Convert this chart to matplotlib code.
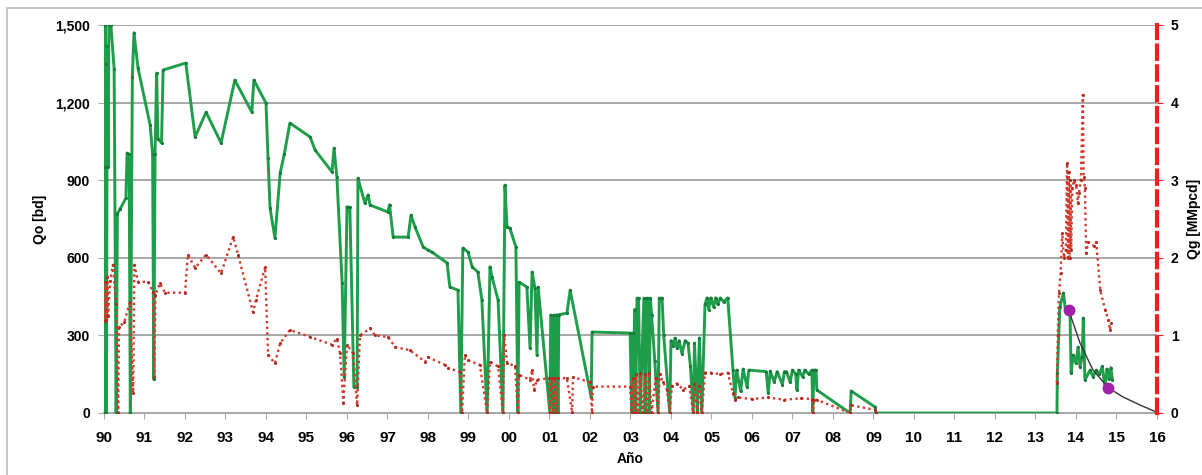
import matplotlib
matplotlib.use("Agg")
import matplotlib.pyplot as plt
from matplotlib.lines import Line2D

plt.rcParams['font.family'] = ['Liberation Sans', 'DejaVu Sans']
plt.rcParams['font.weight'] = 'bold'

# ---------------- data ----------------
year_ticks = list(range(1990, 2017))
year_labels = [f"{y % 100:02d}" for y in year_ticks]
qo_ticks = [0, 300, 600, 900, 1200, 1500]
qo_tick_labels = ["0", "300", "600", "900", "1,200", "1,500"]
qg_ticks = [0, 1, 2, 3, 4, 5]

# Qo [bd] (green, left axis)
qo_year = [
    1990.00, 1990.01, 1990.02, 1990.03, 1990.05, 1990.06, 1990.08, 1990.10, 1990.12, 1990.17,
    1990.25, 1990.30, 1990.33, 1990.40, 1990.54, 1990.57, 1990.62, 1990.65, 1990.70, 1990.74,
    1990.84, 1991.14, 1991.20, 1991.23, 1991.26, 1991.30, 1991.33, 1991.42, 1991.46, 1992.02,
    1992.25, 1992.52, 1992.89, 1993.23, 1993.65, 1993.70, 1994.00, 1994.05, 1994.10, 1994.22,
    1994.35, 1994.45, 1994.59, 1995.09, 1995.21, 1995.63, 1995.68, 1995.75, 1995.88, 1995.93,
    1996.00, 1996.07, 1996.17, 1996.25, 1996.27, 1996.44, 1996.52, 1996.57, 1997.01, 1997.05,
    1997.14, 1997.51, 1997.58, 1997.68, 1997.88, 1998.00, 1998.10, 1998.47, 1998.54, 1998.74,
    1998.81, 1998.86, 1998.99, 1999.09, 1999.23, 1999.33, 1999.46, 1999.53, 1999.58, 1999.73,
    1999.85, 1999.90, 1999.95, 2000.02, 2000.17, 2000.22, 2000.25, 2000.44, 2000.52, 2000.57,
    2000.64, 2000.69, 2000.72, 2001.01, 2001.03, 2001.09, 2001.11, 2001.16, 2001.18, 2001.21,
    2001.23, 2001.43, 2001.51, 2002.03, 2002.05, 2002.99, 2003.03, 2003.05, 2003.07, 2003.10,
    2003.13, 2003.16, 2003.20, 2003.24, 2003.33, 2003.36, 2003.39, 2003.43, 2003.46, 2003.49,
    2003.52, 2003.60, 2003.68, 2003.71, 2003.78, 2003.82, 2003.97, 2004.00, 2004.05, 2004.10,
    2004.15, 2004.20, 2004.27, 2004.35, 2004.42, 2004.48, 2004.55, 2004.58, 2004.65, 2004.70,
    2004.76, 2004.84, 2004.89, 2004.93, 2004.98, 2005.05, 2005.10, 2005.15, 2005.22, 2005.30,
    2005.40, 2005.53, 2005.58, 2005.62, 2005.72, 2005.78, 2005.88, 2005.92, 2006.35, 2006.40,
    2006.45, 2006.55, 2006.62, 2006.75, 2006.80, 2006.85, 2006.94, 2007.00, 2007.08, 2007.11,
    2007.15, 2007.25, 2007.30, 2007.40, 2007.48, 2007.50, 2007.53, 2007.58, 2007.60, 2008.42,
    2008.45, 2009.04, 2009.06, 2013.53, 2013.54, 2013.60, 2013.69, 2013.74, 2013.85, 2013.88,
    2013.93, 2014.00, 2014.05, 2014.10, 2014.15, 2014.18, 2014.22, 2014.35, 2014.42, 2014.50,
    2014.58, 2014.65, 2014.72, 2014.76, 2014.82, 2014.86, 2014.90,
]
qo_val = [
    0, 1500, 950, 1500, 1350, 0, 1420, 950, 1500, 1500,
    1330, 0, 770, 790, 830, 1005, 1000, 0, 1300, 1470,
    1333, 1113, 1000, 130, 1000, 1314, 1060, 1044, 1326, 1353,
    1067, 1163, 1044, 1287, 1163, 1287, 1198, 985, 792, 676,
    928, 1000, 1121, 1067, 1017, 932, 1024, 912, 502, 139,
    797, 795, 100, 100, 908, 812, 843, 804, 777, 805,
    680, 680, 765, 719, 642, 630, 622, 580, 487, 475,
    0, 638, 622, 565, 545, 437, 0, 565, 526, 437,
    0, 881, 719, 715, 642, 0, 506, 487, 251, 545,
    483, 224, 487, 0, 379, 0, 379, 0, 380, 0,
    380, 386, 475, 60, 313, 309, 0, 309, 0, 400,
    0, 444, 444, 0, 444, 0, 444, 444, 0, 444,
    380, 200, 0, 444, 444, 300, 0, 280, 260, 290,
    250, 280, 230, 280, 270, 180, 0, 270, 0, 290,
    0, 420, 445, 400, 445, 410, 445, 420, 445, 430,
    445, 166, 58, 166, 85, 170, 100, 166, 160, 77,
    162, 120, 160, 110, 160, 160, 120, 166, 150, 89,
    166, 140, 166, 150, 166, 0, 166, 166, 89, 0,
    85, 23, 0, 0, 155, 410, 464, 398, 398, 155,
    224, 193, 255, 178, 216, 367, 128, 166, 140, 166,
    150, 180, 93, 170, 130, 175, 128,
]

# Qg [MMpcd] (red dotted, right axis); NaN = no data between 2009 and 2013
nan = float('nan')
qg_year = [
    1990.02, 1990.03, 1990.05, 1990.06, 1990.08, 1990.10, 1990.15, 1990.22, 1990.30, 1990.35,
    1990.37, 1990.50, 1990.64, 1990.72, 1990.75, 1990.84, 1991.09, 1991.21, 1991.24, 1991.27,
    1991.38, 1991.51, 1992.00, 1992.07, 1992.25, 1992.52, 1992.89, 1993.19, 1993.31, 1993.68,
    1993.75, 1993.98, 1994.05, 1994.22, 1994.35, 1994.59, 1995.09, 1995.63, 1995.75, 1995.83,
    1995.91, 1996.00, 1996.15, 1996.25, 1996.32, 1996.57, 1996.69, 1997.01, 1997.19, 1997.55,
    1997.93, 1998.00, 1998.42, 1998.49, 1998.79, 1998.84, 1998.91, 1998.99, 1999.28, 1999.46,
    1999.53, 1999.73, 1999.85, 1999.88, 1999.95, 2000.15, 2000.22, 2000.25, 2000.52, 2000.57,
    2000.62, 2000.69, 2001.00, 2001.01, 2001.05, 2001.09, 2001.13, 2001.18, 2001.21, 2001.43,
    2001.56, 2001.58, 2002.00, 2002.05, 2002.07, 2002.99, 2003.03, 2003.06, 2003.10, 2003.14,
    2003.18, 2003.24, 2003.30, 2003.36, 2003.40, 2003.46, 2003.52, 2003.62, 2003.68, 2003.72,
    2003.80, 2003.90, 2003.97, 2004.02, 2004.15, 2004.30, 2004.45, 2004.55, 2004.58, 2004.65,
    2004.70, 2004.76, 2004.84, 2005.00, 2005.20, 2005.40, 2005.53, 2005.58, 2005.65, 2006.00,
    2006.40, 2006.80, 2007.20, 2007.48, 2007.50, 2007.53, 2007.60, 2008.42, 2008.45, 2009.04,
    2009.06, 2011.00,
    2013.53, 2013.55, 2013.58, 2013.62, 2013.66, 2013.70, 2013.75, 2013.78, 2013.80, 2013.82,
    2013.84, 2013.86, 2013.88, 2013.91, 2013.95, 2014.00, 2014.05, 2014.07, 2014.12, 2014.17,
    2014.19, 2014.22, 2014.25, 2014.30, 2014.45, 2014.50, 2014.60, 2014.72, 2014.80, 2014.84,
    2014.86,
]
qg_val = [
    1.69, 1.18, 1.69, 1.20, 1.75, 1.25, 1.70, 1.91, 1.40, 0.00,
    1.11, 1.17, 1.43, 0.26, 1.91, 1.69, 1.69, 1.56, 0.46, 1.52,
    1.67, 1.55, 1.55, 2.04, 1.87, 2.04, 1.80, 2.27, 2.04, 1.30,
    1.45, 1.88, 0.75, 0.64, 0.90, 1.07, 0.98, 0.88, 0.96, 0.77,
    0.13, 0.88, 0.77, 0.10, 1.00, 1.09, 1.00, 0.98, 0.85, 0.81,
    0.66, 0.72, 0.62, 0.58, 0.53, 0.00, 0.75, 0.68, 0.62, 0.00,
    0.66, 0.60, 0.00, 1.00, 0.65, 0.60, 0.00, 0.49, 0.43, 0.55,
    0.30, 0.43, 0.45, 0.00, 0.45, 0.00, 0.45, 0.00, 0.45, 0.45,
    0.00, 0.46, 0.40, 0.00, 0.34, 0.34, 0.00, 0.45, 0.00, 0.50,
    0.00, 0.52, 0.00, 0.50, 0.00, 0.52, 0.00, 0.45, 0.00, 0.50,
    0.40, 0.30, 0.00, 0.35, 0.38, 0.30, 0.35, 0.00, 0.38, 0.00,
    0.35, 0.00, 0.52, 0.52, 0.50, 0.52, 0.26, 0.17, 0.20, 0.18,
    0.20, 0.17, 0.19, 0.18, 0.00, 0.17, 0.17, 0.00, 0.10, 0.04,
    0.00, nan,
    0.39, 1.00, 1.55, 1.80, 2.32, 2.00, 2.10, 3.22, 2.00, 3.10,
    2.00, 3.00, 2.10, 2.90, 3.00, 2.94, 2.70, 2.83, 3.00, 4.10,
    3.04, 2.90, 2.06, 2.20, 2.15, 2.20, 1.58, 1.33, 1.20, 1.07,
    1.16,
]

# decline forecast (black) and match points (purple), Qo [bd]
decl_year = [2013.82, 2014.10, 2014.42, 2014.80, 2015.16, 2015.58, 2015.95, 2016.00]
decl_val = [398, 270, 166, 97, 62, 31, 6, 3]
match_year = [2013.82, 2014.80]
match_val = [398, 97]

# ---------------- figure ----------------
W, H = 1202, 475
fig = plt.figure(figsize=(W / 100, H / 100), dpi=100)
ax = fig.add_axes([104 / W, 1 - 413 / H, (1157 - 104) / W, (413 - 25) / H])
ax2 = ax.twinx()

grey = '#a8a8a8'
green = '#1e9e4a'
red = '#d2382c'

ax.set_xlim(1990, 2016)
ax.set_ylim(0, 1500)
ax2.set_ylim(0, 5)

for y in qo_ticks:
    ax.axhline(y, color=grey, lw=1.4, zorder=0)

ax.plot(qo_year, qo_val, color=green, lw=2.1, marker='.', ms=2.5,
        mfc='#167a38', mec='#167a38', zorder=3)
ax2.plot(qg_year, qg_val, color=red, lw=1.7, ls=(0, (1, 1.4)), marker='.', ms=2.4,
         mfc='#b02a20', mec='#b02a20', zorder=3)
ax2.plot(decl_year, decl_val, color='#333333', lw=1.0, transform=ax.transData, zorder=4)
ax2.plot(match_year, match_val, ls='none', marker='o', ms=7.5, color='#a020a8',
         transform=ax.transData, zorder=5)

# axes styling
ax.set_xticks(year_ticks)
ax.set_xticklabels(year_labels, fontsize=11, fontweight='bold')
ax.set_yticks(qo_ticks)
ax.set_yticklabels(qo_tick_labels, fontsize=10, fontweight='bold')
ax2.set_yticks(qg_ticks)
ax2.set_yticklabels([str(v) for v in qg_ticks], fontsize=10, fontweight='bold')

ax.spines['top'].set_visible(False)
ax2.spines['top'].set_visible(False)
ax.spines['left'].set_color(grey)
ax.spines['bottom'].set_color(grey)
ax.spines['bottom'].set_linewidth(1.4)
ax2.spines['left'].set_visible(False)
ax2.spines['bottom'].set_visible(False)
ax.spines['right'].set_visible(False)
ax2.spines['right'].set_color('#e8231f')
ax2.spines['right'].set_linewidth(3)
ax2.spines['right'].set_linestyle((0, (3.2, 1.8)))
ax2.spines['right'].set_zorder(6)

ax.tick_params(axis='x', length=4, color=grey, pad=9)
ax.tick_params(axis='y', length=4, color=grey, pad=6)
ax2.tick_params(axis='y', length=4, color='#e8231f', pad=6)

ax.set_xlabel('Año', fontsize=10, fontweight='bold', labelpad=5)
ax.set_ylabel('Qo [bd]', fontsize=10, fontweight='bold', labelpad=6)
ax2.set_ylabel('Qg [MMpcd]', fontsize=10, fontweight='bold', rotation=90, labelpad=6)

# outer frame
fig.add_artist(Line2D([7 / W, 7 / W], [0, 1 - 8 / H], transform=fig.transFigure,
                      color='#c8c8c8', lw=1.5))
fig.add_artist(Line2D([7 / W, 1], [1 - 8 / H, 1 - 8 / H], transform=fig.transFigure,
                      color='#c8c8c8', lw=1.5))

fig.savefig('out.png', dpi=100)
